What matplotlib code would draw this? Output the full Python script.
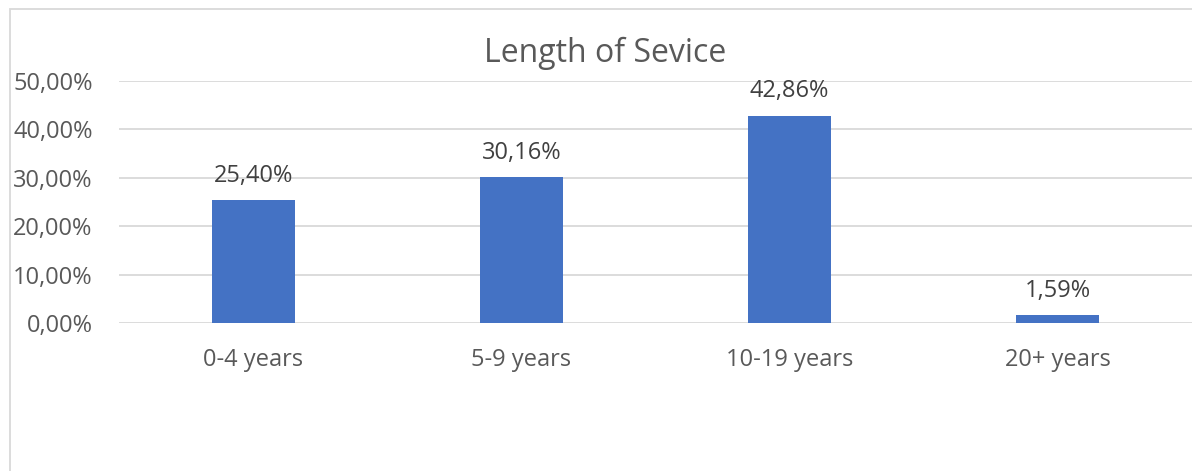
import matplotlib
matplotlib.use("Agg")
import matplotlib.pyplot as plt
from matplotlib.patches import Rectangle
from matplotlib.ticker import FuncFormatter

categories = ["0-4 years", "5-9 years", "10-19 years", "20+ years"]
values = [25.40, 30.16, 42.86, 1.59]
y_ticks = [0, 10, 20, 30, 40, 50]
title = "Length of Sevice"

BAR_COLOR = "#4472C4"
TEXT_COLOR = "#595959"
GRID_COLOR = "#D9D9D9"

plt.rcParams["font.family"] = ["Open Sans", "DejaVu Sans"]

fig = plt.figure(figsize=(11.92, 4.71), dpi=100)
ax = fig.add_axes([119 / 1192, 1 - 323 / 471, 1 - 119 / 1192, (323 - 81) / 471])

# chart frame
fig.patches.append(Rectangle((10 / 1192, -0.1), 1.2, 1 - 9 / 471 + 0.1,
                             transform=fig.transFigure, fill=False,
                             edgecolor=GRID_COLOR, linewidth=1.3, zorder=0))

x = range(len(categories))
bars = ax.bar(x, values, width=0.31, color=BAR_COLOR, zorder=3)

for xi, v in zip(x, values):
    ax.annotate(f"{v:.2f}%".replace(".", ","), (xi, v), xytext=(0, 9),
                textcoords="offset points", ha="center", va="bottom",
                fontsize=17, color="#404040")

ax.set_xlim(-0.5, len(categories) - 0.5)
ax.set_ylim(0, 50)
ax.set_yticks(y_ticks)
ax.yaxis.set_major_formatter(FuncFormatter(lambda v, _: f"{v:.2f}%".replace(".", ",")))
ax.set_xticks(list(x))
ax.set_xticklabels(categories)
ax.tick_params(axis="both", length=0, labelsize=17, colors=TEXT_COLOR)
ax.tick_params(axis="y", pad=19)
ax.tick_params(axis="x", pad=18)
ax.grid(axis="y", color=GRID_COLOR, linewidth=1.3, zorder=0)
for s in ax.spines.values():
    s.set_visible(False)

fig.text(605 / 1192, 1 - 53 / 471, title, ha="center", va="center",
         fontsize=23, color=TEXT_COLOR)

fig.savefig("out.png", dpi=100)
